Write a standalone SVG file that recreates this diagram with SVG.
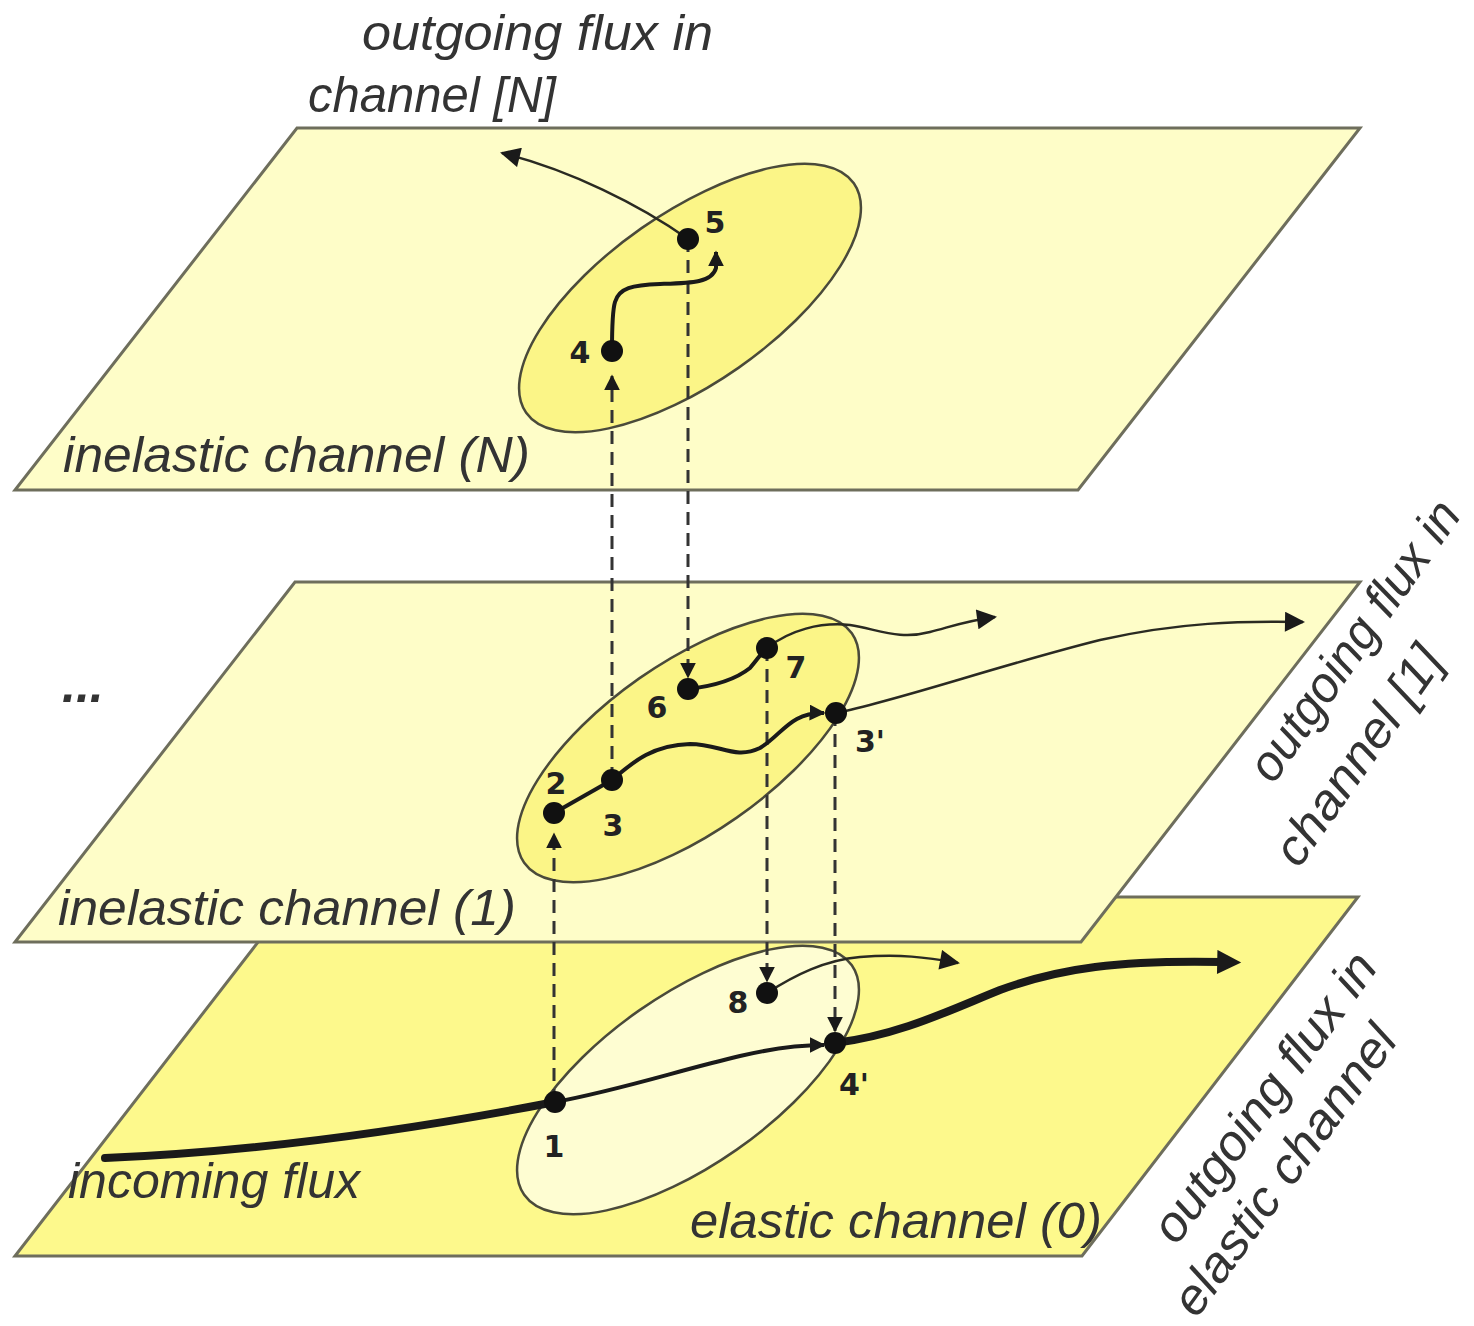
<svg xmlns="http://www.w3.org/2000/svg" width="1474" height="1326" viewBox="0 0 1474 1326">
<defs>
<style>
.plane{stroke:#6e6e5c;stroke-width:3;stroke-linejoin:miter}
.pl-light{fill:#FEFDC8}
.pl-dark{fill:#FDF98C}
.ell{stroke:#4a4a3a;stroke-width:2.5}
.ell-y{fill:#FBF587}
.ell-l{fill:#FEFDD2}
.lbl{font-family:"Liberation Sans",Arial,sans-serif;font-style:italic;fill:#333;font-size:50px}
.num{font-family:"DejaVu Sans","Liberation Sans",sans-serif;font-weight:bold;fill:#222;font-size:30px;text-anchor:middle}
.dash{fill:none;stroke:#333;stroke-width:3;stroke-dasharray:13 8}
.thick{fill:none;stroke:#1a1a1a;stroke-width:8;stroke-linecap:round}
.med{fill:none;stroke:#1a1a1a;stroke-width:4}
.thin{fill:none;stroke:#2a2a22;stroke-width:2.5}
.dot{fill:#111}
</style>
<marker id="ahL" viewBox="0 0 10 10" refX="2" refY="5" markerWidth="28" markerHeight="24" markerUnits="userSpaceOnUse" orient="auto"><path d="M0,0 L10,5 L0,10 z" fill="#1a1a1a"/></marker>
<marker id="ahM" viewBox="0 0 10 10" refX="9" refY="5" markerWidth="22" markerHeight="20" markerUnits="userSpaceOnUse" orient="auto"><path d="M0,0 L10,5 L0,10 z" fill="#1a1a1a"/></marker>
<marker id="ahS" viewBox="0 0 10 10" refX="9" refY="5" markerWidth="16" markerHeight="16" markerUnits="userSpaceOnUse" orient="auto"><path d="M0,0 L10,5 L0,10 z" fill="#1a1a1a"/></marker>
</defs>
<rect width="1474" height="1326" fill="#ffffff"/>

<g id="plane-elastic">
<polygon class="plane pl-dark" points="293,897 1358,897 1082,1256 15,1256"/>
<ellipse class="ell ell-l" cx="688" cy="1080" rx="200" ry="85" transform="rotate(-35 688 1080)"/>
<text class="lbl" x="690" y="1238" textLength="412" lengthAdjust="spacingAndGlyphs">elastic channel (0)</text>
<text class="lbl" x="68" y="1198" textLength="292" lengthAdjust="spacingAndGlyphs">incoming flux</text>
</g>

<g id="plane-inelastic-1">
<polygon class="plane pl-light" points="295,582 1360,582 1081,942 15,942"/>
<ellipse class="ell ell-y" cx="688" cy="748" rx="200" ry="85" transform="rotate(-35 688 748)"/>
<text class="lbl" x="58" y="925" textLength="458" lengthAdjust="spacingAndGlyphs">inelastic channel (1)</text>
</g>

<g id="plane-inelastic-N">
<polygon class="plane pl-light" points="297,128 1360,128 1078,490 15,490"/>
<ellipse class="ell ell-y" cx="690" cy="298" rx="200" ry="85" transform="rotate(-35 690 298)"/>
<text class="lbl" x="63" y="472" textLength="467" lengthAdjust="spacingAndGlyphs">inelastic channel (N)</text>
</g>

<g id="connectors">
<path class="dash" d="M554,1102 L554,834" marker-end="url(#ahS)"/>
<path class="dash" d="M612,780 L612,376" marker-end="url(#ahS)"/>
<path class="dash" d="M688,239 L688,677" marker-end="url(#ahS)"/>
<path class="dash" d="M767,648 L767,981" marker-end="url(#ahS)"/>
<path class="dash" d="M835,713 L835,1031" marker-end="url(#ahS)"/>
<path class="thick" d="M105,1158 C250,1152 400,1132 555,1102"/>
<path class="med" d="M555,1102 C620,1090 680,1070 740,1056 C770,1049 800,1045 824,1045" marker-end="url(#ahS)"/>
<path class="thick" d="M835,1043 C900,1035 950,1010 1000,990 C1060,968 1120,960 1222,962" stroke-linecap="butt" marker-end="url(#ahL)"/>
<path class="thin" d="M767,993 C795,975 825,960 860,957 C900,954 925,957 958,963" marker-end="url(#ahM)"/>
<path class="med" d="M554,813 L612,780"/>
<path class="med" d="M612,780 C630,765 650,745 690,744 C720,744 735,760 760,748 C782,735 790,712 824,713" marker-end="url(#ahS)"/>
<path class="med" d="M688,689 C715,686 735,680 750,668 C757,660 762,652 767,648"/>
<path class="thin" d="M767,648 C790,630 820,622 850,625 C880,630 900,640 930,632 C950,627 965,621 995,617" marker-end="url(#ahM)"/>
<path class="thin" d="M836,713 C900,700 1000,665 1100,640 C1180,622 1240,621 1303,622" marker-end="url(#ahM)"/>
<path class="med" d="M612,350 C612,330 612,312 615,302 C619,288 632,285 660,284 C690,283 712,283 716,268 L716,252" marker-end="url(#ahS)"/>
<path class="thin" d="M688,239 C640,205 570,170 502,153" marker-end="url(#ahM)"/>
</g>

<g id="points">
<circle class="dot" cx="688" cy="239" r="11"/>
<circle class="dot" cx="612" cy="351" r="11"/>
<circle class="dot" cx="767" cy="648" r="11"/>
<circle class="dot" cx="688" cy="689" r="11"/>
<circle class="dot" cx="836" cy="713" r="11"/>
<circle class="dot" cx="612" cy="780" r="11"/>
<circle class="dot" cx="554" cy="813" r="11"/>
<circle class="dot" cx="767" cy="993" r="11"/>
<circle class="dot" cx="835" cy="1043" r="11"/>
<circle class="dot" cx="555" cy="1102" r="11"/>
<text class="num" x="715" y="233">5</text>
<text class="num" x="580" y="363">4</text>
<text class="num" x="796" y="678">7</text>
<text class="num" x="657" y="718">6</text>
<text class="num" x="870" y="752">3'</text>
<text class="num" x="613" y="836">3</text>
<text class="num" x="556" y="794">2</text>
<text class="num" x="738" y="1013">8</text>
<text class="num" x="854" y="1095">4'</text>
<text class="num" x="554" y="1157">1</text>
</g>

<g id="outer-labels">
<text class="lbl" x="362" y="50" textLength="351" lengthAdjust="spacingAndGlyphs">outgoing flux in</text>
<text class="lbl" x="308" y="112" textLength="248" lengthAdjust="spacingAndGlyphs">channel [N]</text>
<text class="lbl" x="62" y="702" font-weight="bold" font-size="80">...</text>
<g transform="translate(1368,650) rotate(-55)"><text class="lbl" x="0" y="0" text-anchor="middle" textLength="330" lengthAdjust="spacingAndGlyphs">outgoing flux in</text></g>
<g transform="translate(1372,765) rotate(-55)"><text class="lbl" x="0" y="0" text-anchor="middle" textLength="255" lengthAdjust="spacingAndGlyphs">channel [1]</text></g>
<g transform="translate(1278,1107) rotate(-54)"><text class="lbl" x="0" y="0" text-anchor="middle" textLength="345" lengthAdjust="spacingAndGlyphs">outgoing flux in</text></g>
<g transform="translate(1298,1180) rotate(-54)"><text class="lbl" x="0" y="0" text-anchor="middle" textLength="345" lengthAdjust="spacingAndGlyphs">elastic channel</text></g>
</g>
</svg>
